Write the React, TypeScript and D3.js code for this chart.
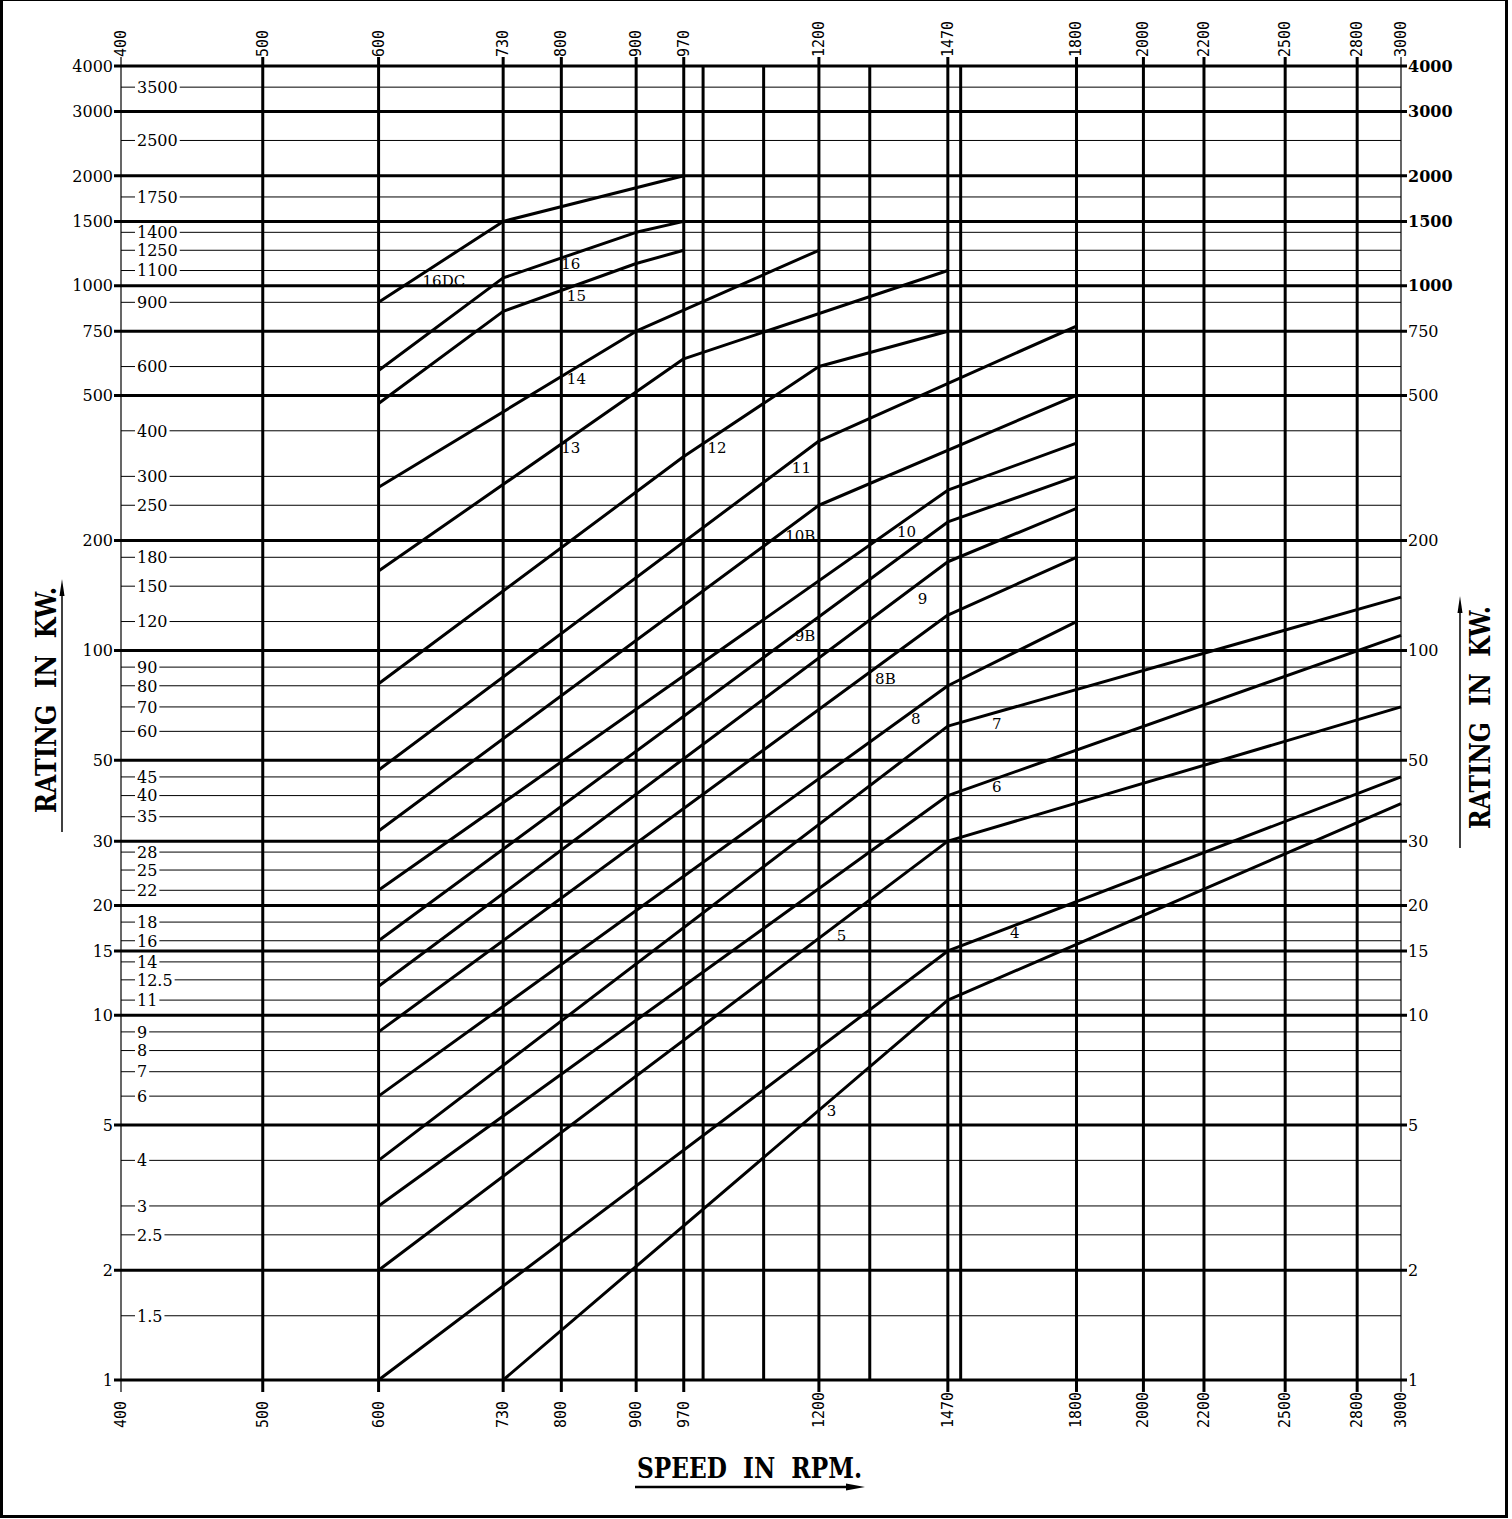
import * as d3 from "d3";
import React, { useRef, useEffect } from "react";

type Pt = [number, number];

// speed axis (rpm)
const speedTicks = [400, 500, 600, 730, 800, 900, 970, 1200, 1470, 1800, 2000, 2200, 2500, 2800, 3000];
const plainSpeedLines = [1000, 1100, 1300, 1500];

// rating axis (kW)
const majorRatings = [1, 2, 5, 10, 15, 20, 30, 50, 100, 200, 500, 750, 1000, 1500, 2000, 3000, 4000];
const minorRatings = [
  1.5, 2.5, 3, 4, 6, 7, 8, 9, 11, 12.5, 14, 16, 18, 22, 25, 28, 35, 40, 45, 60, 70, 80, 90, 120, 150,
  180, 250, 300, 400, 600, 900, 1100, 1250, 1400, 1750, 2500, 3500,
];
const boldRightRatings = [1000, 1500, 2000, 3000, 4000];

// frame size curves: [rpm, kW]
const frame3: Pt[] = [[730, 1], [1470, 11], [3000, 38]];
const frame4: Pt[] = [[600, 1], [1470, 15], [3000, 45]];
const frame5: Pt[] = [[600, 2], [1470, 30], [3000, 70]];
const frame6: Pt[] = [[600, 3], [1470, 40], [3000, 110]];
const frame7: Pt[] = [[600, 4], [1470, 62], [3000, 140]];
const frame8: Pt[] = [[600, 6], [1470, 80], [1800, 120]];
const frame8B: Pt[] = [[600, 9], [1470, 125], [1800, 180]];
const frame9: Pt[] = [[600, 12], [1470, 175], [1800, 245]];
const frame9B: Pt[] = [[600, 16], [1470, 225], [1800, 300]];
const frame10: Pt[] = [[600, 22], [1470, 275], [1800, 370]];
const frame10B: Pt[] = [[600, 32], [1200, 250], [1800, 500]];
const frame11: Pt[] = [[600, 47], [1200, 375], [1800, 775]];
const frame12: Pt[] = [[600, 81], [970, 340], [1200, 600], [1470, 750]];
const frame13: Pt[] = [[600, 165], [970, 630], [1470, 1100]];
const frame14: Pt[] = [[600, 280], [900, 750], [1200, 1250]];
const frame15: Pt[] = [[600, 475], [730, 850], [900, 1150], [970, 1250]];
const frame16: Pt[] = [[600, 585], [730, 1050], [900, 1400], [970, 1500]];
const frame16DC: Pt[] = [[600, 900], [730, 1500], [970, 2000]];

const frameNames = ["3", "4", "5", "6", "7", "8", "8B", "9", "9B", "10", "10B", "11", "12", "13", "14", "15", "16", "16DC"];
const frameCurves = [
  frame3, frame4, frame5, frame6, frame7, frame8, frame8B, frame9, frame9B, frame10, frame10B,
  frame11, frame12, frame13, frame14, frame15, frame16, frame16DC,
];
// where each frame name is written: [rpm, kW] at text start / baseline
const frameLabelAt: Pt[] = [
  [1215, 5.3], [1621, 16.3], [1234, 16], [1576, 41], [1576, 61], [1387, 63], [1311, 81], [1402, 134],
  [1155, 106], [1357, 205], [1138, 200], [1150, 306], [1007, 348], [800, 348], [807, 537], [807, 907],
  [800, 1110], [643, 1000],
];

const valueFont = "'DejaVu Serif', serif";
const tickFont = "'DejaVu Sans Mono', monospace";

const App = () => {
  const svgRef = useRef<SVGSVGElement>(null);

  useEffect(() => {
    const svg = d3.select(svgRef.current);
    svg.selectAll("*").remove();

    const x = d3.scaleLog().domain([400, 3000]).range([121, 1401]);
    const y = d3.scaleLog().domain([1, 4000]).range([1380, 66]);
    const [x0, x1] = x.range();
    const [yBottom, yTop] = y.range();

    svg.append("rect").attr("width", 1512).attr("height", 1519).attr("fill", "#fff");

    // minor rating lines with their inside labels
    const minor = svg.append("g");
    minorRatings.forEach((v) => {
      const yy = y(v);
      minor
        .append("line")
        .attr("x1", x0)
        .attr("x2", x1)
        .attr("y1", yy)
        .attr("y2", yy)
        .attr("stroke", "#000")
        .attr("stroke-width", 1);
      const t = minor
        .append("text")
        .attr("x", x0 + 16)
        .attr("y", yy)
        .attr("dy", "0.36em")
        .style("font-family", valueFont)
        .style("font-size", "16px")
        .text(String(v));
      const w = (t.node() as SVGTextElement).getComputedTextLength();
      minor
        .insert("rect", () => t.node())
        .attr("x", x0 + 14)
        .attr("y", yy - 3)
        .attr("width", w + 4)
        .attr("height", 6)
        .attr("fill", "#fff");
    });

    // speed lines
    const vert = svg.append("g").attr("stroke", "#000");
    speedTicks.forEach((v) => {
      const edge = v === 400 || v === 3000;
      vert
        .append("line")
        .attr("x1", x(v))
        .attr("x2", x(v))
        .attr("y1", yTop - 9)
        .attr("y2", yBottom + 12)
        .attr("stroke-width", edge ? 1.2 : 3);
    });
    plainSpeedLines.forEach((v) => {
      vert
        .append("line")
        .attr("x1", x(v))
        .attr("x2", x(v))
        .attr("y1", yTop)
        .attr("y2", yBottom)
        .attr("stroke-width", 3);
    });

    // major rating lines
    svg
      .append("g")
      .selectAll("line")
      .data(majorRatings)
      .join("line")
      .attr("x1", x0 - 7)
      .attr("x2", x1 + 6)
      .attr("y1", (d) => y(d))
      .attr("y2", (d) => y(d))
      .attr("stroke", "#000")
      .attr("stroke-width", 3);

    svg
      .append("g")
      .selectAll("text")
      .data(majorRatings)
      .join("text")
      .attr("x", x0 - 8)
      .attr("y", (d) => y(d))
      .attr("dy", "0.36em")
      .attr("text-anchor", "end")
      .style("font-family", valueFont)
      .style("font-size", "16px")
      .text((d) => d);

    svg
      .append("g")
      .selectAll("text")
      .data(majorRatings)
      .join("text")
      .attr("x", x1 + 7)
      .attr("y", (d) => y(d))
      .attr("dy", "0.36em")
      .style("font-family", valueFont)
      .style("font-size", "16px")
      .style("font-weight", (d) => (boldRightRatings.includes(d) ? "bold" : "normal"))
      .text((d) => d);

    // speed tick labels, top and bottom
    [yTop - 9, yBottom + 48].forEach((base) => {
      svg
        .append("g")
        .selectAll("text")
        .data(speedTicks)
        .join("text")
        .attr("transform", (d) => `translate(${x(d) + 5},${base}) rotate(-90)`)
        .style("font-family", tickFont)
        .style("font-size", "15px")
        .text((d) => d);
    });

    // frame curves
    const line = d3
      .line<Pt>()
      .x((d) => x(d[0]))
      .y((d) => y(d[1]));

    svg
      .append("g")
      .selectAll("path")
      .data(frameCurves)
      .join("path")
      .attr("d", (d) => line(d))
      .attr("fill", "none")
      .attr("stroke", "#000")
      .attr("stroke-width", 3)
      .attr("stroke-linejoin", "round");

    svg
      .append("g")
      .selectAll("text")
      .data(frameNames)
      .join("text")
      .attr("x", (_d, i) => x(frameLabelAt[i][0]))
      .attr("y", (_d, i) => y(frameLabelAt[i][1]))
      .style("font-family", valueFont)
      .style("font-size", "15px")
      .text((d) => d);

    // titles
    const title = (tx: number, ty: number, rot: number, len: number) =>
      svg
        .append("text")
        .attr("transform", `translate(${tx},${ty}) rotate(${rot})`)
        .attr("textLength", len)
        .attr("lengthAdjust", "spacingAndGlyphs")
        .style("font-family", valueFont)
        .style("font-size", "27px")
        .style("font-weight", "bold");

    title(56, 813, -90, 226).text("RATING\u00A0\u00A0IN\u00A0\u00A0KW.");
    title(1490, 829, -90, 223).text("RATING\u00A0\u00A0IN\u00A0\u00A0KW.");
    title(637, 1478, 0, 225).text("SPEED\u00A0\u00A0IN\u00A0\u00A0RPM.");

    // arrows under the titles
    const arrows = svg.append("g");
    arrows.append("line").attr("x1", 62).attr("x2", 62).attr("y1", 832).attr("y2", 592).attr("stroke", "#000").attr("stroke-width", 1.5);
    arrows.append("polygon").attr("points", "62,579 59.5,596 64.5,596");
    arrows.append("line").attr("x1", 1460).attr("x2", 1460).attr("y1", 848).attr("y2", 610).attr("stroke", "#000").attr("stroke-width", 1.5);
    arrows.append("polygon").attr("points", "1460,596 1457.5,613 1462.5,613");
    arrows.append("line").attr("x1", 635).attr("x2", 850).attr("y1", 1487).attr("y2", 1487).attr("stroke", "#000").attr("stroke-width", 2.5);
    arrows.append("polygon").attr("points", "865,1487 846,1483.5 846,1490.5");

    // outer border
    const border = svg.append("g").attr("stroke", "#000").attr("fill", "none");
    border.append("rect").attr("x", 1).attr("y", 0.5).attr("width", 1506).attr("height", 1516).attr("stroke-width", 1);
    border.append("line").attr("x1", 1.5).attr("x2", 1.5).attr("y1", 0).attr("y2", 1518).attr("stroke-width", 3);
    border.append("line").attr("x1", 1506.5).attr("x2", 1506.5).attr("y1", 0).attr("y2", 1518).attr("stroke-width", 3);
    border.append("line").attr("x1", 0).attr("x2", 1508).attr("y1", 1516.5).attr("y2", 1516.5).attr("stroke-width", 3);
  }, []);

  return (
    <svg
      ref={svgRef}
      width={1512}
      height={1519}
      style={{ position: "absolute", left: 0, top: 0 }}
    ></svg>
  );
};

export default App;
